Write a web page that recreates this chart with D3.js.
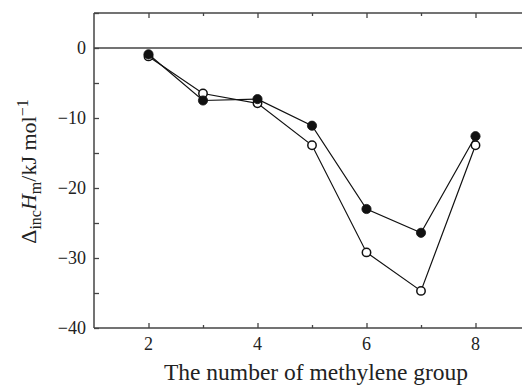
<!DOCTYPE html>
<html>
<head>
<meta charset="utf-8">
<script src="https://cdn.jsdelivr.net/npm/d3@7"></script>
<style>
  html, body { margin: 0; padding: 0; background: #fff; }
  text { font-family: "Liberation Serif", "DejaVu Serif", serif; fill: #222; }
</style>
</head>
<body>
<svg id="chart" width="522" height="387"></svg>
<script>
// Number of methylene groups in the guest chain
const groups = [2, 3, 4, 5, 6, 7, 8];
// Inclusion enthalpies (kJ/mol), two series
const filledSeries = [-0.9, -7.5, -7.3, -11.1, -23.0, -26.4, -12.6];
const openSeries = [-1.2, -6.5, -7.9, -13.9, -29.2, -34.7, -13.9];
// Axis ticks
const xMajorTicks = [2, 4, 6, 8];
const xAllTicks = [2, 3, 4, 5, 6, 7, 8];
const yLabelTicks = [0, -10, -20, -30, -40];
const yAllTicks = [5, 0, -5, -10, -15, -20, -25, -30, -35, -40];

const svg = d3.select("#chart");
const plotLeft = 94, plotTop = 13, plotRight = 530, plotBottom = 328;

const x = d3.scaleLinear().domain([1, 9]).range([plotLeft, plotRight]);
const y = d3.scaleLinear().domain([-40, 5]).range([plotBottom, plotTop]);

const axisColor = "#444";

// Frame axes with inward ticks (labels drawn separately below)
function styleAxis(g) {
  g.select(".domain").remove();
  g.selectAll("text").remove();
  g.selectAll("line").attr("stroke", axisColor).attr("stroke-width", 1.3);
}
const oddTicks = xAllTicks.filter(v => v % 2 === 1);

svg.append("g").attr("transform", `translate(0,${plotBottom})`)
  .call(d3.axisBottom(x).tickValues(oddTicks).tickSizeInner(-3).tickSizeOuter(0))
  .call(styleAxis);
svg.append("g").attr("transform", `translate(0,${plotBottom})`)
  .call(d3.axisBottom(x).tickValues(xMajorTicks).tickSizeInner(-5).tickSizeOuter(0))
  .call(styleAxis);
svg.append("g").attr("transform", `translate(0,${plotTop})`)
  .call(d3.axisTop(x).tickValues(oddTicks).tickSizeInner(-3).tickSizeOuter(0))
  .call(styleAxis);
svg.append("g").attr("transform", `translate(0,${plotTop})`)
  .call(d3.axisTop(x).tickValues(xMajorTicks).tickSizeInner(-5).tickSizeOuter(0))
  .call(styleAxis);
svg.append("g").attr("transform", `translate(${plotLeft},0)`)
  .call(d3.axisLeft(y).tickValues(yAllTicks).tickSizeInner(-5).tickSizeOuter(0))
  .call(styleAxis);

// tick labels
svg.append("g").selectAll("text").data(xMajorTicks).join("text")
  .attr("x", d => x(d)).attr("y", plotBottom + 22)
  .attr("text-anchor", "middle").attr("font-size", 18)
  .text(d => String(d));
svg.append("g").selectAll("text").data(yLabelTicks).join("text")
  .attr("x", plotLeft - 8).attr("y", d => y(d) + 6)
  .attr("text-anchor", "end").attr("font-size", 18)
  .text(d => d < 0 ? "\u2212" + Math.abs(d) : String(d));

// frame lines
svg.append("line").attr("x1", plotLeft).attr("x2", plotRight).attr("y1", plotTop).attr("y2", plotTop)
  .attr("stroke", axisColor).attr("stroke-width", 1.5);
svg.append("line").attr("x1", plotLeft).attr("x2", plotRight).attr("y1", plotBottom).attr("y2", plotBottom)
  .attr("stroke", axisColor).attr("stroke-width", 1.5);
svg.append("line").attr("x1", plotLeft).attr("x2", plotLeft).attr("y1", plotTop).attr("y2", plotBottom)
  .attr("stroke", axisColor).attr("stroke-width", 1.5);

// zero reference line
svg.append("line").attr("x1", plotLeft).attr("x2", plotRight).attr("y1", y(0)).attr("y2", y(0))
  .attr("stroke", axisColor).attr("stroke-width", 1.5);

const line = d3.line().x(d => x(d[0])).y(d => y(d[1]));

function drawSeries(values, filled) {
  const pts = groups.map((g, i) => [g, values[i]]);
  svg.append("path").datum(pts).attr("d", line)
    .attr("fill", "none").attr("stroke", "#111").attr("stroke-width", 1.2);
  svg.append("g").selectAll("circle").data(pts).join("circle")
    .attr("cx", d => x(d[0])).attr("cy", d => y(d[1])).attr("r", filled ? 4.6 : 4.2)
    .attr("fill", filled ? "#111" : "#fff")
    .attr("stroke", "#111").attr("stroke-width", filled ? 0.8 : 1.5);
}
drawSeries(openSeries, false);
drawSeries(filledSeries, true);

// x-axis title
svg.append("text").attr("x", 316).attr("y", 380).attr("text-anchor", "middle")
  .attr("font-size", 23.5).text("The number of methylene group");

// y-axis title with sub/superscripts
const yt = svg.append("text")
  .attr("transform", `translate(36,${(plotTop + plotBottom) / 2 + 1}) rotate(-90)`)
  .attr("text-anchor", "middle").attr("font-size", 22);
yt.append("tspan").text("\u0394");
yt.append("tspan").attr("font-size", 16).attr("dy", 5).text("inc");
yt.append("tspan").attr("font-style", "italic").attr("dy", -5).text("H");
yt.append("tspan").attr("font-size", 16).attr("dy", 5).text("m");
yt.append("tspan").attr("dy", -5).text("/kJ mol");
yt.append("tspan").attr("font-size", 16).attr("dy", -8).text("\u22121");
</script>
</body>
</html>
